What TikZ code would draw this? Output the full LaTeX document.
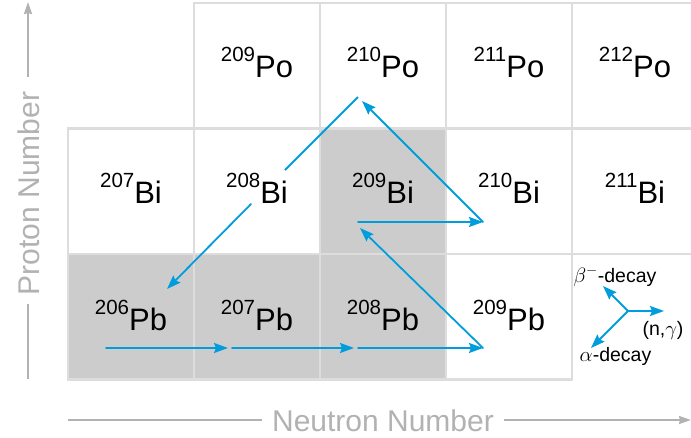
\documentclass[tikz,border=0pt]{standalone}
\usepackage{fontspec}
\setmainfont{Liberation Sans}
\usetikzlibrary{arrows.meta}
\definecolor{nblue}{RGB}{0,157,220}
\definecolor{gridc}{RGB}{221,221,221}
\definecolor{cellg}{RGB}{204,204,204}
\definecolor{axisc}{RGB}{178,178,178}
\newcommand{\isot}[2]{\raisebox{16pt}{\fontsize{20.5}{21}\selectfont #1}\fontsize{31}{31}\selectfont #2}
\begin{document}
\begin{tikzpicture}[x=1pt,y=-1pt,
  cell/.style={draw=gridc,line width=2.5pt,fill=white,minimum width=126pt,minimum height=125.5pt,inner sep=0pt,outer sep=0pt},
  graycell/.style={cell,fill=cellg},
  isolab/.style={anchor=base,inner sep=0pt,text=black},
  decay/.style={draw=nblue,line width=1.8pt,line cap=round,-{Stealth[length=14pt,width=10pt,inset=2pt]}},
  decayline/.style={draw=nblue,line width=1.8pt},
  axisline/.style={draw=axisc,line width=2pt},
  axisarrow/.style={axisline,-{Stealth[length=12pt,width=8pt,inset=1pt]}},
  axislab/.style={text=axisc,inner sep=0pt,font=\fontsize{30}{30}\selectfont},
  leglab/.style={anchor=base,inner sep=0pt,font=\fontsize{19.5}{20}\selectfont}
]
\useasboundingbox (0,0) rectangle (691,437);
\fill[white] (0,0) rectangle (691,437);
% top row
\node[cell] (c209po) at (257,65.5) {};
\node[cell] (c210po) at (383,65.5) {};
\node[cell] (c211po) at (509,65.5) {};
\node[cell] (c212po) at (635,65.5) {};
% middle row
\node[cell] (c207bi) at (131,191) {};
\node[cell] (c208bi) at (257,191) {};
\node[graycell] (c209bi) at (383,191) {};
\node[cell] (c210bi) at (509,191) {};
\node[cell] (c211bi) at (635,191) {};
% bottom row
\node[graycell] (c206pb) at (131,316.5) {};
\node[graycell] (c207pb) at (257,316.5) {};
\node[graycell] (c208pb) at (383,316.5) {};
\node[cell] (c209pb) at (509,316.5) {};
% labels
\node[isolab] (po209) at (257,77) {\isot{209}{Po}};
\node[isolab] (po210) at (383,77) {\isot{210}{Po}};
\node[isolab] (po211) at (509,77) {\isot{211}{Po}};
\node[isolab] (po212) at (635,77) {\isot{212}{Po}};
\node[isolab] (bi207) at (131,203.5) {\isot{207}{Bi}};
\node[isolab] (bi208) at (257,203.5) {\isot{208}{Bi}};
\node[isolab] (bi209) at (383,203.5) {\isot{209}{Bi}};
\node[isolab] (bi210) at (509,203.5) {\isot{210}{Bi}};
\node[isolab] (bi211) at (635,203.5) {\isot{211}{Bi}};
\node[isolab] (pb206) at (131,330) {\isot{206}{Pb}};
\node[isolab] (pb207) at (257,330) {\isot{207}{Pb}};
\node[isolab] (pb208) at (383,330) {\isot{208}{Pb}};
\node[isolab] (pb209) at (509,330) {\isot{209}{Pb}};
% arrow end points
\coordinate (pbA) at (106,348);
\coordinate (pbB) at (230,348);
\coordinate (pbC) at (356,348);
\coordinate (pbD) at (483,348);
\coordinate (biA) at (358,222);
\coordinate (biB) at (483,222);
\coordinate (biC) at (360,228);
\coordinate (poA) at (362,101);
\coordinate (poB) at (358,97);
\coordinate (alA) at (285,170);
\coordinate (alB) at (251,204);
\coordinate (alC) at (167,289);
% arrows
\draw[decay] (pbA) -- ([xshift=-2pt]pbB);
\draw[decay] ([xshift=2pt]pbB) -- ([xshift=-2pt]pbC);
\draw[decay] ([xshift=2pt]pbC) -- (pbD);
\draw[decay] (pbD) -- (biC);
\draw[decay] (biA) -- (biB);
\draw[decay] (biB) -- (poA);
\draw[decayline] (poB) -- (alA);
\draw[decay] (alB) -- (alC);
% legend
\coordinate (lc) at (628,311);
\coordinate (lbeta) at (603,286);
\coordinate (lng) at (664,311);
\coordinate (lalpha) at (591,348);
\draw[decay] (lc) -- (lbeta);
\draw[decay] (lc) -- (lng);
\draw[decay] (lc) -- (lalpha);
\node[leglab] (tbeta) at (615,282) {$\beta^{-}$-decay};
\node[leglab] (tng) at (663,335) {(n,$\gamma$)};
\node[leglab] (talpha) at (615.5,361) {$\alpha$-decay};
% axes
\node[axislab,rotate=90,anchor=base] (ylab) at (39,193.5) {Proton Number};
\coordinate (yb) at (28,379);
\coordinate (yt) at (28,2);
\draw[axisline] (28,304) -- (yb);
\draw[axisarrow] (28,77) -- (yt);
\node[axislab,anchor=base] (xlab) at (383,431) {Neutron Number};
\coordinate (xl) at (68,420);
\coordinate (xr) at (691,420);
\draw[axisline] (xl) -- ([xshift=-10pt]xlab.west |- xl);
\draw[axisarrow] ([xshift=10pt]xlab.east |- xr) -- (xr);
\end{tikzpicture}
\end{document}
